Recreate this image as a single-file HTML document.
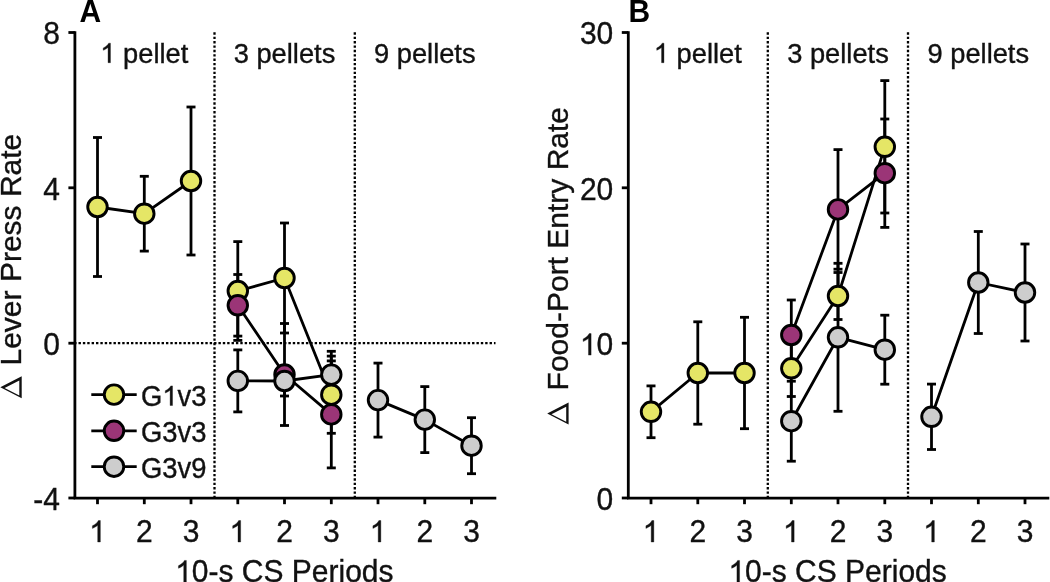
<!DOCTYPE html>
<html><head><meta charset="utf-8"><style>
html,body{margin:0;padding:0;background:#fff;}
body{width:1050px;height:582px;overflow:hidden;}
svg{display:block;}
svg{will-change:transform;filter:blur(0.4px);}
text,.o{stroke:#111;stroke-width:0.35px;}
.o{vector-effect:non-scaling-stroke;}
</style></head><body>
<svg width="1050" height="582" viewBox="0 0 1050 582">
<rect width="1050" height="582" fill="#fff"/>
<g font-family='"Liberation Sans", sans-serif'>
<line x1="214.5" y1="32.3" x2="214.5" y2="498.2" stroke="#000" stroke-width="2.3" stroke-dasharray="2.4 1.973"/>
<line x1="354.8" y1="32.3" x2="354.8" y2="498.2" stroke="#000" stroke-width="2.3" stroke-dasharray="2.4 1.973"/>
<line x1="74.13" y1="343.2" x2="495.5" y2="343.2" stroke="#000" stroke-width="2.3" stroke-dasharray="2.4 1.973"/>
<g stroke="#000" stroke-width="2.8" fill="none">
<line x1="74.9" y1="31.2" x2="74.9" y2="498.2"/>
<line x1="73.60000000000001" y1="498.2" x2="496.3" y2="498.2"/>
<line x1="68.4" y1="32.5" x2="74.9" y2="32.5"/>
<line x1="68.4" y1="187.8" x2="74.9" y2="187.8"/>
<line x1="68.4" y1="343.2" x2="74.9" y2="343.2"/>
<line x1="68.4" y1="498.0" x2="74.9" y2="498.0"/>
<line x1="97.5" y1="498.2" x2="97.5" y2="504.2"/>
<line x1="144.3" y1="498.2" x2="144.3" y2="504.2"/>
<line x1="191.0" y1="498.2" x2="191.0" y2="504.2"/>
<line x1="237.8" y1="498.2" x2="237.8" y2="504.2"/>
<line x1="284.5" y1="498.2" x2="284.5" y2="504.2"/>
<line x1="331.3" y1="498.2" x2="331.3" y2="504.2"/>
<line x1="378.0" y1="498.2" x2="378.0" y2="504.2"/>
<line x1="424.8" y1="498.2" x2="424.8" y2="504.2"/>
<line x1="471.5" y1="498.2" x2="471.5" y2="504.2"/>
</g>
<text transform="translate(43.22,44.4) scale(1,1.045)" font-size="30" text-anchor="start" fill="#111">8</text>
<text transform="translate(43.22,199.70000000000002) scale(1,1.045)" font-size="30" text-anchor="start" fill="#111">4</text>
<text transform="translate(43.22,355.09999999999997) scale(1,1.045)" font-size="30" text-anchor="start" fill="#111">0</text>
<text transform="translate(33.23,509.9) scale(1,1.045)" font-size="30" text-anchor="start" fill="#111">-4</text>
<path class="o" transform="translate(89.16,542.00) scale(0.01465,-0.01465)" d="M763 0L583 0L583 1147Q518 1085 412 1023Q306 961 222 930L222 1104Q367 1172 476 1269Q585 1366 630 1466L763 1466Z" fill="#111"/>
<text transform="translate(135.96,542) scale(1,1.045)" font-size="30" text-anchor="start" fill="#111">2</text>
<text transform="translate(182.66,542) scale(1,1.045)" font-size="30" text-anchor="start" fill="#111">3</text>
<path class="o" transform="translate(229.46,542.00) scale(0.01465,-0.01465)" d="M763 0L583 0L583 1147Q518 1085 412 1023Q306 961 222 930L222 1104Q367 1172 476 1269Q585 1366 630 1466L763 1466Z" fill="#111"/>
<text transform="translate(276.16,542) scale(1,1.045)" font-size="30" text-anchor="start" fill="#111">2</text>
<text transform="translate(322.96,542) scale(1,1.045)" font-size="30" text-anchor="start" fill="#111">3</text>
<path class="o" transform="translate(369.66,542.00) scale(0.01465,-0.01465)" d="M763 0L583 0L583 1147Q518 1085 412 1023Q306 961 222 930L222 1104Q367 1172 476 1269Q585 1366 630 1466L763 1466Z" fill="#111"/>
<text transform="translate(416.46,542) scale(1,1.045)" font-size="30" text-anchor="start" fill="#111">2</text>
<text transform="translate(463.16,542) scale(1,1.045)" font-size="30" text-anchor="start" fill="#111">3</text>
<path class="o" transform="translate(100.28,62.70) scale(0.01333,-0.01333)" d="M763 0L583 0L583 1147Q518 1085 412 1023Q306 961 222 930L222 1104Q367 1172 476 1269Q585 1366 630 1466L763 1466Z" fill="#111"/><text transform="translate(115.47,62.7) scale(1,1.045)" font-size="27.3" text-anchor="start" fill="#111">&#160;pellet</text>
<text transform="translate(233.66,62.7) scale(1,1.045)" font-size="27.3" text-anchor="start" fill="#111">3 pellets</text>
<text transform="translate(373.96,62.7) scale(1,1.045)" font-size="27.3" text-anchor="start" fill="#111">9 pellets</text>
<path class="o" transform="translate(175.19,581.90) scale(0.01465,-0.01465)" d="M763 0L583 0L583 1147Q518 1085 412 1023Q306 961 222 930L222 1104Q367 1172 476 1269Q585 1366 630 1466L763 1466Z" fill="#111"/><text transform="translate(191.87,581.9) scale(1,1.045)" font-size="30" text-anchor="start" fill="#111">0-s CS Periods</text>
<text transform="translate(21.3,365.5) rotate(-90)" font-size="30" text-anchor="start" fill="#111">Lever Press Rate</text>
<path d="M0.30,387.20 L21.70,376.20 L21.70,398.20 Z M19.30,395.40 L19.30,380.40 L4.60,387.90 Z" fill="#111" fill-rule="evenodd"/>
<line x1="767.8" y1="32.3" x2="767.8" y2="498.2" stroke="#000" stroke-width="2.3" stroke-dasharray="2.4 1.973"/>
<line x1="908.0" y1="32.3" x2="908.0" y2="498.2" stroke="#000" stroke-width="2.3" stroke-dasharray="2.4 1.973"/>
<g stroke="#000" stroke-width="2.8" fill="none">
<line x1="628.3" y1="31.2" x2="628.3" y2="498.2"/>
<line x1="627.0" y1="498.2" x2="1049.3" y2="498.2"/>
<line x1="621.8" y1="32.5" x2="628.3" y2="32.5"/>
<line x1="621.8" y1="187.8" x2="628.3" y2="187.8"/>
<line x1="621.8" y1="343.2" x2="628.3" y2="343.2"/>
<line x1="621.8" y1="498.0" x2="628.3" y2="498.0"/>
<line x1="651.0" y1="498.2" x2="651.0" y2="504.2"/>
<line x1="697.8" y1="498.2" x2="697.8" y2="504.2"/>
<line x1="744.5" y1="498.2" x2="744.5" y2="504.2"/>
<line x1="791.3" y1="498.2" x2="791.3" y2="504.2"/>
<line x1="838.0" y1="498.2" x2="838.0" y2="504.2"/>
<line x1="884.8" y1="498.2" x2="884.8" y2="504.2"/>
<line x1="931.5" y1="498.2" x2="931.5" y2="504.2"/>
<line x1="978.3" y1="498.2" x2="978.3" y2="504.2"/>
<line x1="1025.0" y1="498.2" x2="1025.0" y2="504.2"/>
</g>
<text transform="translate(579.93,44.4) scale(1,1.045)" font-size="30" text-anchor="start" fill="#111">30</text>
<text transform="translate(579.93,199.70000000000002) scale(1,1.045)" font-size="30" text-anchor="start" fill="#111">20</text>
<path class="o" transform="translate(579.93,355.10) scale(0.01465,-0.01465)" d="M763 0L583 0L583 1147Q518 1085 412 1023Q306 961 222 930L222 1104Q367 1172 476 1269Q585 1366 630 1466L763 1466Z" fill="#111"/><text transform="translate(596.62,355.09999999999997) scale(1,1.045)" font-size="30" text-anchor="start" fill="#111">0</text>
<text transform="translate(596.62,509.9) scale(1,1.045)" font-size="30" text-anchor="start" fill="#111">0</text>
<path class="o" transform="translate(642.66,542.00) scale(0.01465,-0.01465)" d="M763 0L583 0L583 1147Q518 1085 412 1023Q306 961 222 930L222 1104Q367 1172 476 1269Q585 1366 630 1466L763 1466Z" fill="#111"/>
<text transform="translate(689.46,542) scale(1,1.045)" font-size="30" text-anchor="start" fill="#111">2</text>
<text transform="translate(736.16,542) scale(1,1.045)" font-size="30" text-anchor="start" fill="#111">3</text>
<path class="o" transform="translate(782.96,542.00) scale(0.01465,-0.01465)" d="M763 0L583 0L583 1147Q518 1085 412 1023Q306 961 222 930L222 1104Q367 1172 476 1269Q585 1366 630 1466L763 1466Z" fill="#111"/>
<text transform="translate(829.66,542) scale(1,1.045)" font-size="30" text-anchor="start" fill="#111">2</text>
<text transform="translate(876.46,542) scale(1,1.045)" font-size="30" text-anchor="start" fill="#111">3</text>
<path class="o" transform="translate(923.16,542.00) scale(0.01465,-0.01465)" d="M763 0L583 0L583 1147Q518 1085 412 1023Q306 961 222 930L222 1104Q367 1172 476 1269Q585 1366 630 1466L763 1466Z" fill="#111"/>
<text transform="translate(969.96,542) scale(1,1.045)" font-size="30" text-anchor="start" fill="#111">2</text>
<text transform="translate(1016.66,542) scale(1,1.045)" font-size="30" text-anchor="start" fill="#111">3</text>
<path class="o" transform="translate(653.78,62.70) scale(0.01333,-0.01333)" d="M763 0L583 0L583 1147Q518 1085 412 1023Q306 961 222 930L222 1104Q367 1172 476 1269Q585 1366 630 1466L763 1466Z" fill="#111"/><text transform="translate(668.97,62.7) scale(1,1.045)" font-size="27.3" text-anchor="start" fill="#111">&#160;pellet</text>
<text transform="translate(787.16,62.7) scale(1,1.045)" font-size="27.3" text-anchor="start" fill="#111">3 pellets</text>
<text transform="translate(927.46,62.7) scale(1,1.045)" font-size="27.3" text-anchor="start" fill="#111">9 pellets</text>
<path class="o" transform="translate(728.39,581.90) scale(0.01465,-0.01465)" d="M763 0L583 0L583 1147Q518 1085 412 1023Q306 961 222 930L222 1104Q367 1172 476 1269Q585 1366 630 1466L763 1466Z" fill="#111"/><text transform="translate(745.07,581.9) scale(1,1.045)" font-size="30" text-anchor="start" fill="#111">0-s CS Periods</text>
<text transform="translate(568.4,390.4) rotate(-90)" font-size="30" text-anchor="start" fill="#111">Food-Port Entry Rate</text>
<path d="M547.20,413.45 L568.60,402.45 L568.60,424.45 Z M566.20,421.65 L566.20,406.65 L551.50,414.15 Z" fill="#111" fill-rule="evenodd"/>
<g stroke="#000" stroke-width="2.8" fill="none"><line x1="97.5" y1="137.5" x2="97.5" y2="276.5"/><line x1="93.0" y1="137.5" x2="102.0" y2="137.5"/><line x1="93.0" y1="276.5" x2="102.0" y2="276.5"/><line x1="144.3" y1="176.3" x2="144.3" y2="251.1"/><line x1="139.8" y1="176.3" x2="148.8" y2="176.3"/><line x1="139.8" y1="251.1" x2="148.8" y2="251.1"/><line x1="191.0" y1="107.0" x2="191.0" y2="255.0"/><line x1="186.5" y1="107.0" x2="195.5" y2="107.0"/><line x1="186.5" y1="255.0" x2="195.5" y2="255.0"/><line x1="237.8" y1="241.6" x2="237.8" y2="340.4"/><line x1="233.3" y1="241.6" x2="242.3" y2="241.6"/><line x1="233.3" y1="340.4" x2="242.3" y2="340.4"/><line x1="284.5" y1="223.0" x2="284.5" y2="333.0"/><line x1="280.0" y1="223.0" x2="289.0" y2="223.0"/><line x1="280.0" y1="333.0" x2="289.0" y2="333.0"/><line x1="331.3" y1="356.1" x2="331.3" y2="433.3"/><line x1="326.8" y1="356.1" x2="335.8" y2="356.1"/><line x1="326.8" y1="433.3" x2="335.8" y2="433.3"/><line x1="237.8" y1="274.5" x2="237.8" y2="336.1"/><line x1="233.3" y1="274.5" x2="242.3" y2="274.5"/><line x1="233.3" y1="336.1" x2="242.3" y2="336.1"/><line x1="284.5" y1="323.5" x2="284.5" y2="425.5"/><line x1="280.0" y1="323.5" x2="289.0" y2="323.5"/><line x1="280.0" y1="425.5" x2="289.0" y2="425.5"/><line x1="331.3" y1="360.9" x2="331.3" y2="467.9"/><line x1="326.8" y1="360.9" x2="335.8" y2="360.9"/><line x1="326.8" y1="467.9" x2="335.8" y2="467.9"/><line x1="237.8" y1="349.9" x2="237.8" y2="411.9"/><line x1="233.3" y1="349.9" x2="242.3" y2="349.9"/><line x1="233.3" y1="411.9" x2="242.3" y2="411.9"/><line x1="284.5" y1="366.0" x2="284.5" y2="396.0"/><line x1="280.0" y1="366.0" x2="289.0" y2="366.0"/><line x1="280.0" y1="396.0" x2="289.0" y2="396.0"/><line x1="331.3" y1="351.3" x2="331.3" y2="397.9"/><line x1="326.8" y1="351.3" x2="335.8" y2="351.3"/><line x1="326.8" y1="397.9" x2="335.8" y2="397.9"/><line x1="378.0" y1="363.1" x2="378.0" y2="437.1"/><line x1="373.5" y1="363.1" x2="382.5" y2="363.1"/><line x1="373.5" y1="437.1" x2="382.5" y2="437.1"/><line x1="424.8" y1="386.6" x2="424.8" y2="452.6"/><line x1="420.3" y1="386.6" x2="429.3" y2="386.6"/><line x1="420.3" y1="452.6" x2="429.3" y2="452.6"/><line x1="471.5" y1="417.7" x2="471.5" y2="473.7"/><line x1="467.0" y1="417.7" x2="476.0" y2="417.7"/><line x1="467.0" y1="473.7" x2="476.0" y2="473.7"/></g>
<g stroke="#000" stroke-width="2.8" fill="none" stroke-linejoin="round"><polyline points="97.5,207 144.3,213.7 191.0,181"/><polyline points="237.8,291 284.5,278 331.3,394.7"/><polyline points="237.8,305.3 284.5,374.5 331.3,414.4"/><polyline points="237.8,380.9 284.5,381 331.3,374.6"/><polyline points="378.0,400.1 424.8,419.6 471.5,445.7"/></g>
<g stroke="#000" stroke-width="2.9" fill="#e5e666"><circle cx="97.5" cy="207" r="9.75"/><circle cx="144.3" cy="213.7" r="9.75"/><circle cx="191.0" cy="181" r="9.75"/><circle cx="237.8" cy="291" r="9.75"/><circle cx="284.5" cy="278" r="9.75"/><circle cx="331.3" cy="394.7" r="9.75"/></g>
<g stroke="#000" stroke-width="2.9" fill="#9b3577"><circle cx="237.8" cy="305.3" r="9.75"/><circle cx="284.5" cy="374.5" r="9.75"/><circle cx="331.3" cy="414.4" r="9.75"/></g>
<g stroke="#000" stroke-width="2.9" fill="#cdcdcd"><circle cx="237.8" cy="380.9" r="9.75"/><circle cx="284.5" cy="381" r="9.75"/><circle cx="331.3" cy="374.6" r="9.75"/><circle cx="378.0" cy="400.1" r="9.75"/><circle cx="424.8" cy="419.6" r="9.75"/><circle cx="471.5" cy="445.7" r="9.75"/></g>
<g stroke="#000" stroke-width="2.8" fill="none"><line x1="651.0" y1="385.9" x2="651.0" y2="437.7"/><line x1="646.5" y1="385.9" x2="655.5" y2="385.9"/><line x1="646.5" y1="437.7" x2="655.5" y2="437.7"/><line x1="697.8" y1="321.8" x2="697.8" y2="424.2"/><line x1="693.3" y1="321.8" x2="702.3" y2="321.8"/><line x1="693.3" y1="424.2" x2="702.3" y2="424.2"/><line x1="744.5" y1="317.3" x2="744.5" y2="428.7"/><line x1="740.0" y1="317.3" x2="749.0" y2="317.3"/><line x1="740.0" y1="428.7" x2="749.0" y2="428.7"/><line x1="791.3" y1="340.1" x2="791.3" y2="396.5"/><line x1="786.8" y1="340.1" x2="795.8" y2="340.1"/><line x1="786.8" y1="396.5" x2="795.8" y2="396.5"/><line x1="838.0" y1="272.5" x2="838.0" y2="319.5"/><line x1="833.5" y1="272.5" x2="842.5" y2="272.5"/><line x1="833.5" y1="319.5" x2="842.5" y2="319.5"/><line x1="884.8" y1="80.6" x2="884.8" y2="213.0"/><line x1="880.3" y1="80.6" x2="889.3" y2="80.6"/><line x1="880.3" y1="213.0" x2="889.3" y2="213.0"/><line x1="791.3" y1="300.0" x2="791.3" y2="370.0"/><line x1="786.8" y1="300.0" x2="795.8" y2="300.0"/><line x1="786.8" y1="370.0" x2="795.8" y2="370.0"/><line x1="838.0" y1="149.6" x2="838.0" y2="269.2"/><line x1="833.5" y1="149.6" x2="842.5" y2="149.6"/><line x1="833.5" y1="269.2" x2="842.5" y2="269.2"/><line x1="884.8" y1="119.0" x2="884.8" y2="227.4"/><line x1="880.3" y1="119.0" x2="889.3" y2="119.0"/><line x1="880.3" y1="227.4" x2="889.3" y2="227.4"/><line x1="791.3" y1="381.2" x2="791.3" y2="461.2"/><line x1="786.8" y1="381.2" x2="795.8" y2="381.2"/><line x1="786.8" y1="461.2" x2="795.8" y2="461.2"/><line x1="838.0" y1="263.3" x2="838.0" y2="411.3"/><line x1="833.5" y1="263.3" x2="842.5" y2="263.3"/><line x1="833.5" y1="411.3" x2="842.5" y2="411.3"/><line x1="884.8" y1="315.2" x2="884.8" y2="384.2"/><line x1="880.3" y1="315.2" x2="889.3" y2="315.2"/><line x1="880.3" y1="384.2" x2="889.3" y2="384.2"/><line x1="931.5" y1="384.1" x2="931.5" y2="449.5"/><line x1="927.0" y1="384.1" x2="936.0" y2="384.1"/><line x1="927.0" y1="449.5" x2="936.0" y2="449.5"/><line x1="978.3" y1="231.5" x2="978.3" y2="333.5"/><line x1="973.8" y1="231.5" x2="982.8" y2="231.5"/><line x1="973.8" y1="333.5" x2="982.8" y2="333.5"/><line x1="1025.0" y1="244.0" x2="1025.0" y2="341.0"/><line x1="1020.5" y1="244.0" x2="1029.5" y2="244.0"/><line x1="1020.5" y1="341.0" x2="1029.5" y2="341.0"/></g>
<g stroke="#000" stroke-width="2.8" fill="none" stroke-linejoin="round"><polyline points="651.0,411.8 697.8,373 744.5,373"/><polyline points="791.3,368.3 838.0,296 884.8,146.8"/><polyline points="791.3,335 838.0,209.4 884.8,173.2"/><polyline points="791.3,421.2 838.0,337.3 884.8,349.7"/><polyline points="931.5,416.8 978.3,282.5 1025.0,292.5"/></g>
<g stroke="#000" stroke-width="2.9" fill="#e5e666"><circle cx="651.0" cy="411.8" r="9.75"/><circle cx="697.8" cy="373" r="9.75"/><circle cx="744.5" cy="373" r="9.75"/><circle cx="791.3" cy="368.3" r="9.75"/><circle cx="838.0" cy="296" r="9.75"/><circle cx="884.8" cy="146.8" r="9.75"/></g>
<g stroke="#000" stroke-width="2.9" fill="#9b3577"><circle cx="791.3" cy="335" r="9.75"/><circle cx="838.0" cy="209.4" r="9.75"/><circle cx="884.8" cy="173.2" r="9.75"/></g>
<g stroke="#000" stroke-width="2.9" fill="#cdcdcd"><circle cx="791.3" cy="421.2" r="9.75"/><circle cx="838.0" cy="337.3" r="9.75"/><circle cx="884.8" cy="349.7" r="9.75"/><circle cx="931.5" cy="416.8" r="9.75"/><circle cx="978.3" cy="282.5" r="9.75"/><circle cx="1025.0" cy="292.5" r="9.75"/></g>
<line x1="91.3" y1="394.6" x2="136.7" y2="394.6" stroke="#000" stroke-width="2.8"/>
<circle cx="114" cy="394.6" r="9.75" fill="#e5e666" stroke="#000" stroke-width="2.9"/>
<text transform="translate(141,405.5) scale(1,1.045)" font-size="27.4" text-anchor="start" fill="#111">G</text><path class="o" transform="translate(162.31,405.50) scale(0.01338,-0.01338)" d="M763 0L583 0L583 1147Q518 1085 412 1023Q306 961 222 930L222 1104Q367 1172 476 1269Q585 1366 630 1466L763 1466Z" fill="#111"/><text transform="translate(177.55,405.5) scale(1,1.045)" font-size="27.4" text-anchor="start" fill="#111">v3</text>
<line x1="91.3" y1="430.8" x2="136.7" y2="430.8" stroke="#000" stroke-width="2.8"/>
<circle cx="114" cy="430.8" r="9.75" fill="#9b3577" stroke="#000" stroke-width="2.9"/>
<text transform="translate(141,441.7) scale(1,1.045)" font-size="27.4" text-anchor="start" fill="#111">G3v3</text>
<line x1="91.3" y1="466.7" x2="136.7" y2="466.7" stroke="#000" stroke-width="2.8"/>
<circle cx="114" cy="466.7" r="9.75" fill="#cdcdcd" stroke="#000" stroke-width="2.9"/>
<text transform="translate(141,477.59999999999997) scale(1,1.045)" font-size="27.4" text-anchor="start" fill="#111">G3v9</text>
<text style="stroke:none" transform="translate(79.5,21.7) scale(1,1.045)" font-size="30" text-anchor="start" font-weight="bold" fill="#000">A</text>
<text style="stroke:none" transform="translate(628.4,21.7) scale(1,1.045)" font-size="30" text-anchor="start" font-weight="bold" fill="#000">B</text>
</g>
</svg>
</body></html>
